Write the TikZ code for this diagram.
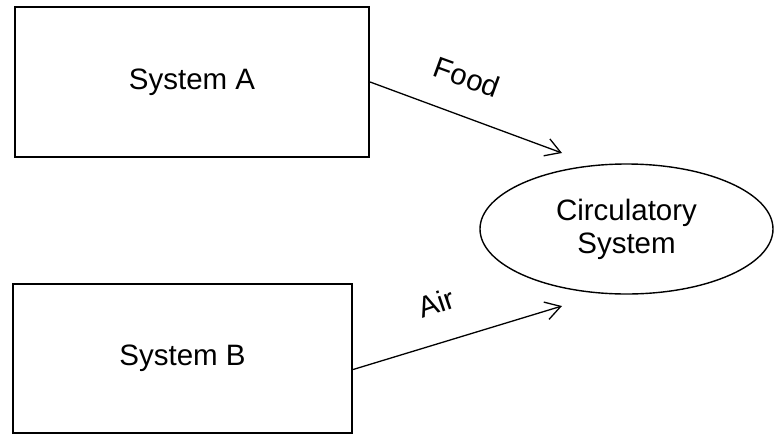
\documentclass[tikz,border=0pt]{standalone}
\usepackage{fontspec}
\setmainfont{Liberation Sans}
\usetikzlibrary{shapes.geometric,arrows.meta}
\begin{document}
\begin{tikzpicture}[x=1pt,y=-1pt,
  sysbox/.style={draw,line width=2.2pt,rectangle,inner sep=0pt,font=\fontsize{29.5}{34}\selectfont},
  circ/.style={draw,line width=1.4pt,ellipse,inner sep=0pt,align=center,font=\fontsize{29.5}{33}\selectfont},
  flow/.style={line width=1.3pt,-{Straight Barb[length=15pt,width=18pt,line width=1.3pt]}},
  lbl/.style={font=\fontsize{29.5}{34}\selectfont,inner sep=0pt}]
\useasboundingbox[fill=white] (0,0) rectangle (777,437);
\node[sysbox,minimum width=354pt,minimum height=150pt] (A) at (192,82) {System A};
\node[sysbox,minimum width=339pt,minimum height=149pt] (B) at (182.5,358.5) {System B};
\node[circ,minimum width=293pt,minimum height=130pt] (C) at (626.5,229) {Circulatory\\System};
\coordinate (fa) at (562,153);
\coordinate (fb) at (562,306);
\draw[flow] (A.east) -- (fa);
\draw[flow] ([yshift=-11pt]B.east) -- (fb);
\node[lbl,rotate=-20] (food) at (467,77) {Food};
\node[lbl,rotate=19] (air) at (436,303) {Air};
\end{tikzpicture}
\end{document}
